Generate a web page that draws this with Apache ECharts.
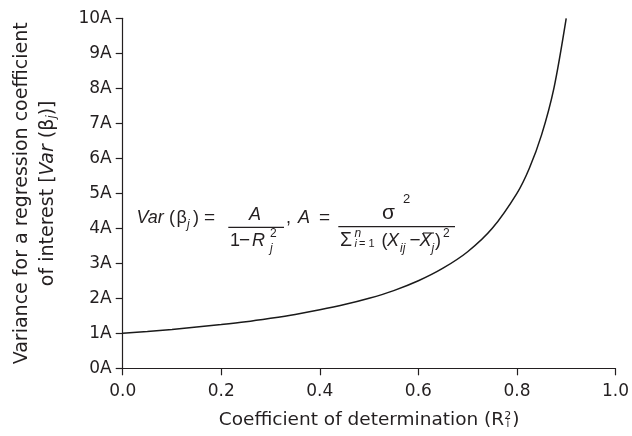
<!DOCTYPE html>
<html>
<head>
<meta charset="utf-8">
<script src="https://cdn.jsdelivr.net/npm/echarts@6/dist/echarts.min.js"></script>
<style>
html,body{margin:0;padding:0;background:#fff;}
#chart{width:632px;height:436px;}
</style>
</head>
<body>
<div id="chart"></div>
<script>
// R^2 values (x) and variance in units of A (y)
var rSquared = [0, 0.05, 0.1, 0.15, 0.2, 0.25, 0.3, 0.35, 0.4, 0.45, 0.5, 0.55, 0.6, 0.65, 0.7, 0.75, 0.8, 0.825, 0.85, 0.875, 0.9];
var variance = [1.0, 1.05, 1.11, 1.18, 1.25, 1.33, 1.43, 1.54, 1.67, 1.82, 2.0, 2.22, 2.5, 2.86, 3.33, 4.0, 5.0, 5.71, 6.67, 8.0, 10.0];
var xTicks = ['0.0', '0.2', '0.4', '0.6', '0.8', '1.0'];
var yTickSuffix = 'A';

var FONT = 'DejaVu Sans';
var FFONT = 'Liberation Sans';
var INK = '#231f20';

var chart = echarts.init(document.getElementById('chart'), null, {renderer: 'canvas'});

var data = rSquared.map(function (x, i) { return [x, variance[i]]; });

// measure x-title parts to place the stacked subscript "i"
var ctx = document.createElement('canvas').getContext('2d');
function tw(txt, size, style) { ctx.font = (style || '') + ' ' + size + 'px "' + FONT + '"'; return ctx.measureText(txt).width; }
var XT_SIZE = 18.5, XT_SMALL = 11;
var xtA = 'Coefficient of determination (R';
var wA = tw(xtA, XT_SIZE), w2 = tw('2', XT_SMALL) + 1, wP = tw(')', XT_SIZE);
var gridLeft = 122.7, gridRight = 15;
var centerX = gridLeft + (632 - gridLeft - gridRight) / 2;
var xtLeft = centerX - (wA + w2 + wP) / 2;

function T(text, x, baseline, size, italic, fam) {
  return {
    type: 'text', x: x, y: baseline - 0.3 * size,
    style: {text: text, fill: INK, font: (italic ? 'italic ' : '') + size + 'px "' + (fam || FFONT) + '"', verticalAlign: 'middle', align: 'left'},
    silent: true
  };
}
function L(x1, y1, x2, y2, w) {
  return {type: 'line', shape: {x1: x1, y1: y1, x2: x2, y2: y2}, style: {stroke: INK, lineWidth: w || 1.2}, silent: true};
}

var B = 223, NUM = 220, DEN = 246.5, S = 18, s = 12;
var graphics = [
  T('Var', 136.5, B, S, true),
  T('(', 169, B, S),
  T('β', 176.5, B, S),
  T('j', 187, B + 5, s, true),
  T(')', 193, B, S),
  T('=', 204, B, 19),
  T('A', 249, NUM, S, true),
  L(228.3, 227.3, 284, 227.3),
  T('1', 230, DEN, S),
  T('−', 239, DEN, 19),
  T('R', 252, DEN, S, true),
  T('2', 270, 237.5, s),
  T('j', 270, 252.5, s, true),
  T(',', 286, B, S),
  T('A', 298, B, S, true),
  T('=', 319, B, 19),
  T('σ', 382, 219.5, 21),
  T('2', 403, 203, 13),
  L(338.3, 226.7, 455, 226.7),
  T('Σ', 340, DEN, 19.5),
  T('n', 354.5, 237.5, s, true),
  T('i', 354.5, 247.5, 11, true),
  T('= 1', 359, 247.5, 11),
  T('(', 381.5, DEN, S),
  T('X', 387, DEN, S, true),
  T('ij', 400, 252.5, s, true),
  T('−', 409.5, DEN, 19),
  T('X', 419.5, DEN, S, true),
  L(423, 233, 434, 233, 1.1),
  T('j', 431.5, 252.5, s, true),
  T(')', 435, DEN, S),
  T('2', 443, 237.5, s),
  // stacked subscript i of the x-axis title
  T('i', xtLeft + wA + 1.5, 427.5, 10, false, FONT)
];

var option = {
  animation: false,
  backgroundColor: '#fff',
  textStyle: {fontFamily: FONT, color: INK},
  grid: {left: gridLeft, right: gridRight, top: 18.3, bottom: 436 - 368.3, containLabel: false},
  xAxis: {
    type: 'value', min: 0, max: 1, interval: 0.2,
    axisLine: {lineStyle: {color: INK, width: 1.2}},
    axisTick: {show: true, length: 7, lineStyle: {color: INK, width: 1.2}},
    axisLabel: {
      color: INK, fontSize: 17, fontFamily: FONT, margin: 15,
      formatter: function (v) { var i = Math.round(v / 0.2); return xTicks[i]; }
    },
    splitLine: {show: false},
    name: '{a|' + xtA + '}{s|2}{a|)}',
    nameLocation: 'middle', nameGap: 42,
    nameTextStyle: {
      rich: {
        a: {fontSize: XT_SIZE, fontFamily: FONT, color: INK},
        s: {fontSize: XT_SMALL, fontFamily: FONT, color: INK, padding: [0, 1, 9, 0]}
      }
    }
  },
  yAxis: {
    type: 'value', min: 0, max: 10, interval: 1,
    axisLine: {show: true, lineStyle: {color: INK, width: 1.2}},
    axisTick: {show: true, length: 7, lineStyle: {color: INK, width: 1.2}},
    axisLabel: {
      color: INK, fontSize: 17, fontFamily: FONT, margin: 11,
      formatter: function (v) { return v + yTickSuffix; }
    },
    splitLine: {show: false},
    name: '{a|Variance for a regression coefficient}\n{a|of interest [}{i|Var}{a| (β}{s|j}{a|)]}',
    nameLocation: 'middle', nameGap: 62,
    nameTextStyle: {
      lineHeight: 26,
      rich: {
        a: {fontSize: 19, fontFamily: FONT, color: INK, lineHeight: 26},
        i: {fontSize: 19, fontFamily: FONT, color: INK, fontStyle: 'italic', lineHeight: 26},
        s: {fontSize: 12, fontFamily: FONT, color: INK, fontStyle: 'italic', lineHeight: 26, padding: [8, 0, 0, 0]}
      }
    }
  },
  series: [{
    type: 'line', data: data, smooth: 0.3, showSymbol: false, symbol: 'none',
    lineStyle: {color: '#1a1a1a', width: 1.5}, silent: true, clip: false
  }],
  graphic: graphics
};
chart.setOption(option);
</script>
</body>
</html>
